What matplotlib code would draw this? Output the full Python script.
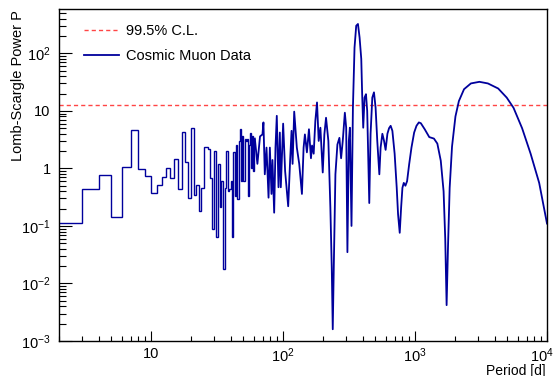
import numpy as np
import matplotlib
matplotlib.use("Agg")
import matplotlib.pyplot as plt
import matplotlib.transforms as mtransforms
from matplotlib.ticker import FuncFormatter, NullFormatter, LogLocator

plt.rcParams['font.family'] = ['Liberation Sans', 'DejaVu Sans']
plt.rcParams['mathtext.default'] = 'regular'

# 1-day period bins, P = 2 .. 60 d (histogram part)
step_edges = np.arange(2, 62)
step_power = [0.114, 0.44, 0.78, 0.144, 1.05, 4.6, 0.97, 0.75, 0.38, 0.51,
              0.70, 1.03, 0.68, 1.45, 0.43, 4.3, 1.3, 0.31, 5.1, 0.35,
              0.52, 0.18, 0.45, 2.4, 2.4, 2.15, 0.69, 0.089, 2.0, 0.063,
              1.2, 0.21, 0.6, 0.018, 0.46, 2.0, 0.41, 0.44, 0.6, 0.063,
              1.9, 0.33, 2.6, 0.29, 3.0, 4.8, 0.6, 3.7, 0.6, 3.2,
              3.0, 3.3, 0.33, 2.6, 4.2, 1.0, 3.6, 0.9, 3.3]

# longer periods (bins narrower than a pixel)
line_period = [61, 63.8, 66.8, 69.7, 70.9, 72.6, 74.8, 77.5, 79.3, 81.6,
               83, 85.5, 87.5, 89.5, 92.2, 94.4, 96, 100, 103.5, 109.2,
               113, 115.8, 117.9, 121.3, 127, 132.4, 138.8, 142.9, 146.2, 151.4,
               156.9, 162.5, 165.6, 170.4, 175.4, 180.6, 186, 191.6, 199.6, 205.3,
               211.4, 220.2, 228, 233.6, 237.7, 242, 249, 257.8, 267, 275,
               283, 293.6, 300.5, 307, 314.6, 320.5, 329.7, 338, 347.6, 358,
               369, 379.7, 391, 397, 404.6, 414, 424.5, 433.6, 449.6, 460,
               474, 488, 502, 517, 536, 548, 565, 582, 598, 617,
               635, 653, 673, 700, 726, 743, 765, 784, 802, 821,
               845, 870, 902, 939, 984, 1025, 1068, 1106, 1183, 1281,
               1390, 1475, 1566, 1645, 1693, 1734, 1778, 1829, 1906, 2023,
               2148, 2350, 2649, 3073, 3564, 4265, 4952, 5576, 6475, 7514,
               8724, 10000]
line_power = [3.3, 1.2, 3.6, 3.9, 6.3, 0.79, 2.3, 0.31, 2.3, 0.36,
              1.4, 0.17, 2.3, 8.2, 0.47, 4.2, 0.47, 6.0, 0.9, 0.22,
              1.4, 4.5, 1.2, 9.7, 2.3, 1.2, 0.36, 2.3, 3.9, 1.9,
              4.8, 1.5, 2.5, 1.8, 6.7, 14, 3.0, 5.1, 0.85, 3.9,
              7.6, 3.0, 0.21, 0.019, 0.0016, 0.019, 0.79, 2.6, 3.4, 1.5,
              3.0, 9.3, 5.1, 0.035, 3.0, 5.1, 0.1, 11.4, 126, 302,
              324, 188, 80, 20, 5.1, 17, 19.5, 10, 0.25, 4.0,
              17, 21, 11.4, 3.0, 0.79, 2.3, 4.0, 3.0, 2.1, 4.0,
              5.0, 5.5, 4.5, 1.8, 0.46, 0.16, 0.076, 0.21, 0.46, 0.56,
              0.5, 0.6, 1.18, 2.3, 4.2, 5.5, 6.3, 6.1, 4.8, 3.5,
              3.3, 2.7, 1.36, 0.40, 0.06, 0.0042, 0.046, 0.46, 2.4, 8.0,
              14.8, 23.8, 30, 32, 30, 24.5, 17, 11.3, 5.0, 1.8,
              0.56, 0.11]

cl_level = 12.9
x_range = (2, 1e4)
y_range = (1e-3, 590)

data_color = '#00009c'

fig = plt.figure(figsize=(5.57, 3.76), dpi=100)
ax = fig.add_axes([59/557, 35/376, 488/557, 332/376])

ax.axhline(cl_level, color='#ff4545', ls=(0, (3, 2.2)), lw=1.0, label='99.5% C.L.')
ax.stairs(step_power, step_edges, color=data_color, lw=1.0, baseline=None)
ax.plot(line_period, line_power, color=data_color, lw=1.3, label='Cosmic Muon Data')

ax.set_xscale('log')
ax.set_yscale('log')
ax.set_xlim(*x_range)
ax.set_ylim(*y_range)

def pow_fmt(v, pos):
    e = int(round(np.log10(v)))
    if e == 0:
        return '1'
    if e == 1:
        return '10'
    return r'$10^{%d}$' % e

for axis in (ax.xaxis, ax.yaxis):
    axis.set_major_locator(LogLocator(base=10, numticks=20))
    axis.set_minor_locator(LogLocator(base=10, subs=np.arange(2, 10), numticks=20))
    axis.set_major_formatter(FuncFormatter(pow_fmt))
    axis.set_minor_formatter(NullFormatter())

ax.tick_params(which='both', direction='in', top=False, right=False, labelsize=10.5)
ax.tick_params(axis='x', which='major', length=7, width=0.8, pad=4)
ax.tick_params(axis='x', which='minor', length=3.5, width=0.8)
ax.tick_params(axis='y', which='major', length=9, width=0.8, pad=6)
ax.tick_params(axis='y', which='minor', length=5, width=0.8)
for s in ax.spines.values():
    s.set_linewidth(1.0)

fig.text(0.032, 1 - 10/376, 'Lomb-Scargle Power P', rotation=90,
         ha='center', va='top', fontsize=10.5)
fig.text(546/557, 1 - 370.5/376, 'Period [d]', ha='right', va='center', fontsize=10)

ax.legend(loc='upper left', bbox_to_anchor=(84/557, 1 - 24/376),
          bbox_transform=fig.transFigure, frameon=False, borderpad=0,
          borderaxespad=0, handlelength=2.4, handletextpad=0.5,
          labelspacing=0.75, fontsize=10.5)

# pull the 10^4 label a bit left so it stays inside the canvas
fig.canvas.draw()
for tick in ax.xaxis.get_major_ticks():
    if abs(tick.get_loc() - 1e4) < 1:
        lbl = tick.label1
        lbl.set_transform(lbl.get_transform() +
                          mtransforms.ScaledTranslation(-5/100, 0, fig.dpi_scale_trans))

fig.savefig('out.png', dpi=100)
